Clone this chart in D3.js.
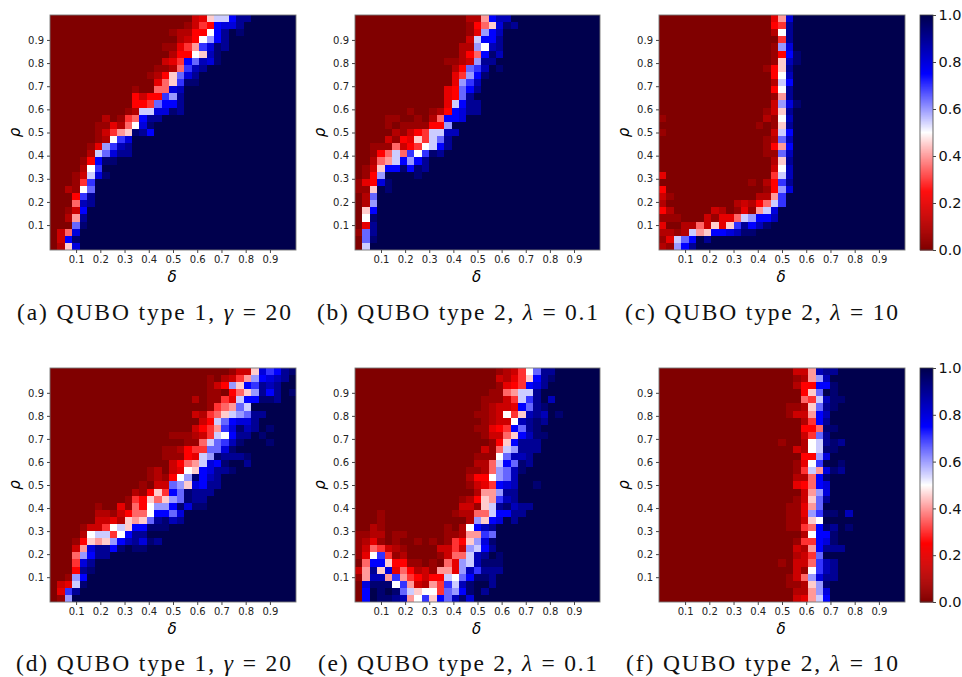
<!DOCTYPE html>
<html>
<head>
<meta charset="utf-8">
<script src="https://cdn.jsdelivr.net/npm/d3@7"></script>
<style>
  html, body { margin: 0; background: #fff; }
  svg { display: block; }
  text { font-family: "DejaVu Sans", sans-serif; fill: #000; }
  .caption { font-family: "Liberation Serif", serif; font-size: 23.5px; fill: #111; }
  .tick text { font-size: 10px; fill: #222; }
  .cbar .tick text { font-size: 14.5px; fill: #111; }
  .domain, .tick line { stroke: #444; }
</style>
</head>
<body>
<svg width="962" height="677">
  <defs>
    <filter id="soft" x="-2%" y="-2%" width="104%" height="104%">
      <feGaussianBlur stdDeviation="0.45"></feGaussianBlur>
    </filter>
  </defs>
</svg>
<script>
// each row, top to bottom: [columns at 0 before the band, band values], everything after the band is 1
// band letters: . = 0.00, a = 0.05, b = 0.10 ... j = 0.50 ... s = 0.95, # = 1.00
const levels = ".abcdefghijklmnopqrs#";
const tickValues = [0.1, 0.2, 0.3, 0.4, 0.5, 0.6, 0.7, 0.8, 0.9];
const cbarTicks = [0, 0.2, 0.4, 0.6, 0.8, 1];

const panelA = [
  [19,"cdikkorr"],[18,"acfeoppr"],[16,"abbeejor#s"],[17,"bcejlor"],[15,"aadfhnpsr"],[16,"beejiqs"],
  [15,"cdfomqps"],[14,"aabgnqr"],[13,"abeimpr"],[14,"dginss"],[11,"a..ggpq"],[11,"eceenlr"],
  [11,"eefmoor"],[10,"abkkppsr"],[7,"b.afgorr"],[6,"aadbgjps"],[6,"acfhisro"],[6,"abjnp"],
  [5,"adlnqr"],[5,"bkmprr"],[4,"aeoss"],[4,"bjn"],[3,"ackps"],[3,"afn"],
  [2,"bajm"],[3,"enr"],[3,"gqr"],[2,"aco"],[2,"bhr"],[3,"ms"],[1,"cgp"],[1,"cos"],[1,"bip"]
];
const panelB = [
  [15,"bbhoqq"],[15,"aegipsr"],[15,"adloq"],[15,"ckoor"],[14,"bbljqr"],[14,"begosq"],
  [12,"aabclrr"],[13,"bemnq#s"],[13,"dflos"],[13,"dlnq"],[12,"demor"],[12,"demr"],
  [12,"dkorr"],[7,"a..abeoprr"],[4,"aa..a.bgoop"],[4,"a.aaaaeel"],[5,"bacefkkqq"],[4,"caedifkmr"],
  [2,"aaagcefjkor"],[2,"aegkgnjnsr"],[2,"bghkolor"],[1,"acioososr"],[1,"ael####s"],[0,"adeps"],
  [0,"aai#s"],[1,"bm"],[1,"bl"],[1,"io"],[1,"js"],[1,"dr"],[0,"amr"],[1,"ms"],[1,"k"]
];
const panelC = [
  [15,"dhp"],[15,"efr"],[15,"bjr"],[16,"fr"],[15,"alp"],[15,"aeos"],
  [15,"aiqs"],[14,"aeir"],[15,"ejq"],[15,"bko"],[15,"ejr"],[15,"ahr"],
  [15,"clps"],[14,"acir"],[0,"a.............bajq"],[13,"a.air"],[0,"a..............cko"],[14,"abmq"],
  [14,"aeho"],[14,"aamq"],[15,"bir"],[15,"cjq"],[0,"d..............fkq"],[12,"a.benr"],
  [0,"e.............aelp"],[0,"ca...........bbhn"],[0,"b.........bcbegkn"],[0,"eb.....cb.adahkp"],
  [0,"aaa...caddgklooq"],[0,"d..bbgcidinroqs"],[0,"bbabkhioopqss"],[0,"adkmo#r"],[0,"balor"]
];
const panelD = [
  [24,"accipnors"],[21,"a.bcfhlopqr#"],[21,"acelionrqr"],[21,"aa.egilror#s"],[19,"b.aafdkoossr"],[21,"afghmk"],
  [19,"cbfgiklmrr"],[20,"cekmoppr"],[19,"cefhnpsqr#s"],[16,"aaabcfkjorr#s"],[18,"aagkmnqs###s"],[15,"aabeffmmps"],
  [15,"aaaedklsrrrs"],[16,"ceghkpos##r"],[13,"ab.cdjioprrs"],[13,"abaejlsoqr"],[12,"a.ccmliporr"],[11,"baeifomsrrr"],
  [10,"afeigilmsrr"],[6,"a..dagejllospss"],[6,"bbaceggjoomp"],[6,"ccdbihimrsqr"],[4,"accfjkioosss"],[4,"bjkkfjorr"],
  [3,"aeihiloqrpsr"],[3,"chprros#ss"],[3,"glorr"],[3,"fpr"],[3,"ers"],[2,"alo"],[1,"cdks"],[1,"dnr"],[1,"al"]
];
const panelE = [
  [19,"abcfjmrr"],[19,"cbdfiors"],[19,"adefopr"],[18,"aaghkkr"],[17,"aaacfknr#q"],[17,"abccdomrs"],
  [16,"aabcjfiqrq#s"],[17,"abccjqrsr"],[16,"aadefomrs"],[17,"accgioqss"],[18,"aeiorrr"],[17,"cagklrrr"],
  [16,"aaajmqqr"],[16,"bbgkomsr"],[15,"aabglmqs"],[15,"beejlmq"],[15,"acdfopq##s"],[16,"bhhlrr"],
  [14,"abeihnqr"],[14,"ccaikrsqrr"],[3,"a.........abbggkoorr"],[3,"a...........bliop#r"],[2,"ba........a.bjoqr"],
  [0,"aabb.aa.....aabhhnm"],[0,"abda.a..a.a.afeilps"],[0,"acgfcba....ccfclkor"],[0,"adjnfab....acggkqr#s"],
  [0,".gooieeaa.a.gdlkqsss"],[0,"chripdgebcahhdlqnrrr"],[0,"ahqqhnhfeceekjmossr"],[0,".psssjnhcbhfnkqs##r"],
  [0,".o#s#smkijjfmlos#r"],[0,".o#ssrqhjniomqsp"]
];
const panelF = [
  [18,"cchqrr"],[18,"abhlq"],[18,"beeoos"],[19,"eim#s"],[19,"gfkqss"],[17,"aabimrs"],
  [17,"acchoq"],[19,"bfor"],[19,"eegss"],[19,"cfmr"],[16,"a..bjkrsr"],[18,"cbjkss"],
  [19,"eelp"],[18,"adjn##s"],[18,"afkhpsr"],[18,"bbgos"],[18,"degop"],[19,"chlp"],
  [18,"acimr"],[17,"aadhm"],[17,"aadlnss#q"],[17,"aacij"],[17,"aafgosr#s"],[19,"bjoos"],
  [18,"affops"],[18,"cbhorrr"],[18,"bcfm"],[16,"a.ccgnqr"],[18,"cajnqr"],[17,"acglprr"],
  [17,"aabils"],[18,"bbhlp"],[18,"cdhko"]
];

const captionsA = ["(a) QUBO type 1, ", "(b) QUBO type 2, ", "(c) QUBO type 2, ", "(d) QUBO type 1, ", "(e) QUBO type 2, ", "(f) QUBO type 2, "];
const captionsSym = ["γ", "λ", "λ", "γ", "λ", "λ"];
const captionsVal = [" = 20", " = 0.1", " = 10", " = 20", " = 0.1", " = 10"];

const n = 33;

const color = d3.scaleLinear()
    .domain([0, 0.25, 0.5, 0.75, 1])
    .range(["#800000", "#ff0000", "#ffffff", "#0000ff", "#00004d"]);

function cells(rows) {
    const out = [];
    rows.forEach(([start, band], r) => {
        d3.range(n).forEach(c => {
            let v = 1;
            if (c < start) v = 0;
            else if (c < start + band.length) v = levels.indexOf(band[c - start]) / 20;
            out.push({r, c, v});
        });
    });
    return out;
}

const svg = d3.select("svg");

const panels = [
    {rows: panelA, x0: 50,  x1: 296, y0: 15,  y1: 250, capX: 17,  capW: 274, capY: 320},
    {rows: panelB, x0: 355, x1: 600, y0: 15,  y1: 250, capX: 317, capW: 281, capY: 320},
    {rows: panelC, x0: 659, x1: 905, y0: 15,  y1: 250, capX: 625, capW: 273, capY: 320},
    {rows: panelD, x0: 50,  x1: 296, y0: 368, y1: 602, capX: 16,  capW: 275, capY: 671},
    {rows: panelE, x0: 355, x1: 600, y0: 368, y1: 602, capX: 318, capW: 279, capY: 671},
    {rows: panelF, x0: 659, x1: 905, y0: 368, y1: 602, capX: 626, capW: 272, capY: 671}
];

panels.forEach((p, i) => {
    const xCell = d3.scaleBand().domain(d3.range(n)).range([p.x0, p.x1]);
    const yCell = d3.scaleBand().domain(d3.range(n)).range([p.y0, p.y1]);
    const bw = xCell.bandwidth(), bh = yCell.bandwidth();

    // ticks sit on the centres of cells 3 and 29
    const x = d3.scaleLinear().domain([0.1, 0.9]).range([xCell(3) + bw / 2, xCell(29) + bw / 2]);
    const y = d3.scaleLinear().domain([0.1, 0.9]).range([yCell(29) + bh / 2, yCell(3) + bh / 2]);

    const g = svg.append("g");

    // the reference is a resampled bitmap, so the cells get a slight blur
    g.append("g")
        .attr("filter", "url(#soft)")
        .selectAll("rect")
        .data(cells(p.rows))
        .enter().append("rect")
        .attr("x", d => xCell(d.c))
        .attr("y", d => yCell(d.r))
        .attr("width", d => d.c === n - 1 ? bw : bw + 1)
        .attr("height", d => d.r === n - 1 ? bh : bh + 1)
        .attr("shape-rendering", "crispEdges")
        .attr("fill", d => color(d.v));

    g.append("rect")
        .attr("x", p.x0).attr("y", p.y0)
        .attr("width", p.x1 - p.x0).attr("height", p.y1 - p.y0)
        .attr("fill", "none").attr("stroke", "#777").attr("stroke-width", 0.9);

    g.append("g")
        .attr("transform", `translate(0,${p.y1})`)
        .call(d3.axisBottom(x).tickValues(tickValues).tickFormat(d3.format(".1f")).tickSize(3).tickPadding(3))
        .call(a => a.select(".domain").remove());

    g.append("g")
        .attr("transform", `translate(${p.x0},0)`)
        .call(d3.axisLeft(y).tickValues(tickValues).tickFormat(d3.format(".1f")).tickSize(3).tickPadding(3))
        .call(a => a.select(".domain").remove());

    g.append("text")
        .attr("x", (p.x0 + p.x1) / 2 - 1)
        .attr("y", p.y1 + 32)
        .attr("text-anchor", "middle")
        .attr("font-size", 15)
        .attr("font-style", "italic")
        .text("δ");

    g.append("text")
        .attr("transform", `translate(${p.x0 - 30},${(p.y0 + p.y1) / 2}) rotate(-90)`)
        .attr("text-anchor", "middle")
        .attr("font-size", 15)
        .attr("font-style", "italic")
        .text("ρ");

    const cap = g.append("text")
        .attr("class", "caption")
        .attr("x", p.capX)
        .attr("y", p.capY)
        .attr("textLength", p.capW)
        .attr("lengthAdjust", "spacing");
    cap.append("tspan").text(captionsA[i]);
    cap.append("tspan").attr("font-style", "italic").text(captionsSym[i]);
    cap.append("tspan").text(captionsVal[i]);
});

// colorbars next to the third and sixth panels
[[15, 250], [368, 602]].forEach(([top, bottom]) => {
    const cy = d3.scaleLinear().domain([0, 1]).range([bottom, top]);
    const g = svg.append("g").attr("class", "cbar");
    const steps = d3.range(0, 1, 1 / 236);

    g.append("g").selectAll("rect")
        .data(steps)
        .enter().append("rect")
        .attr("x", 920)
        .attr("y", d => cy(d + 1 / 236))
        .attr("width", 13)
        .attr("height", (bottom - top) / 236 + 0.5)
        .attr("fill", d => color(d));

    g.append("rect")
        .attr("x", 920).attr("y", top)
        .attr("width", 13).attr("height", bottom - top)
        .attr("fill", "none").attr("stroke", "#444").attr("stroke-width", 0.8);

    g.append("g")
        .attr("transform", "translate(933,0)")
        .call(d3.axisRight(cy).tickValues(cbarTicks).tickFormat(d3.format(".1f")).tickSize(3).tickPadding(2.5))
        .call(a => a.select(".domain").remove());
});
</script>
</body>
</html>
